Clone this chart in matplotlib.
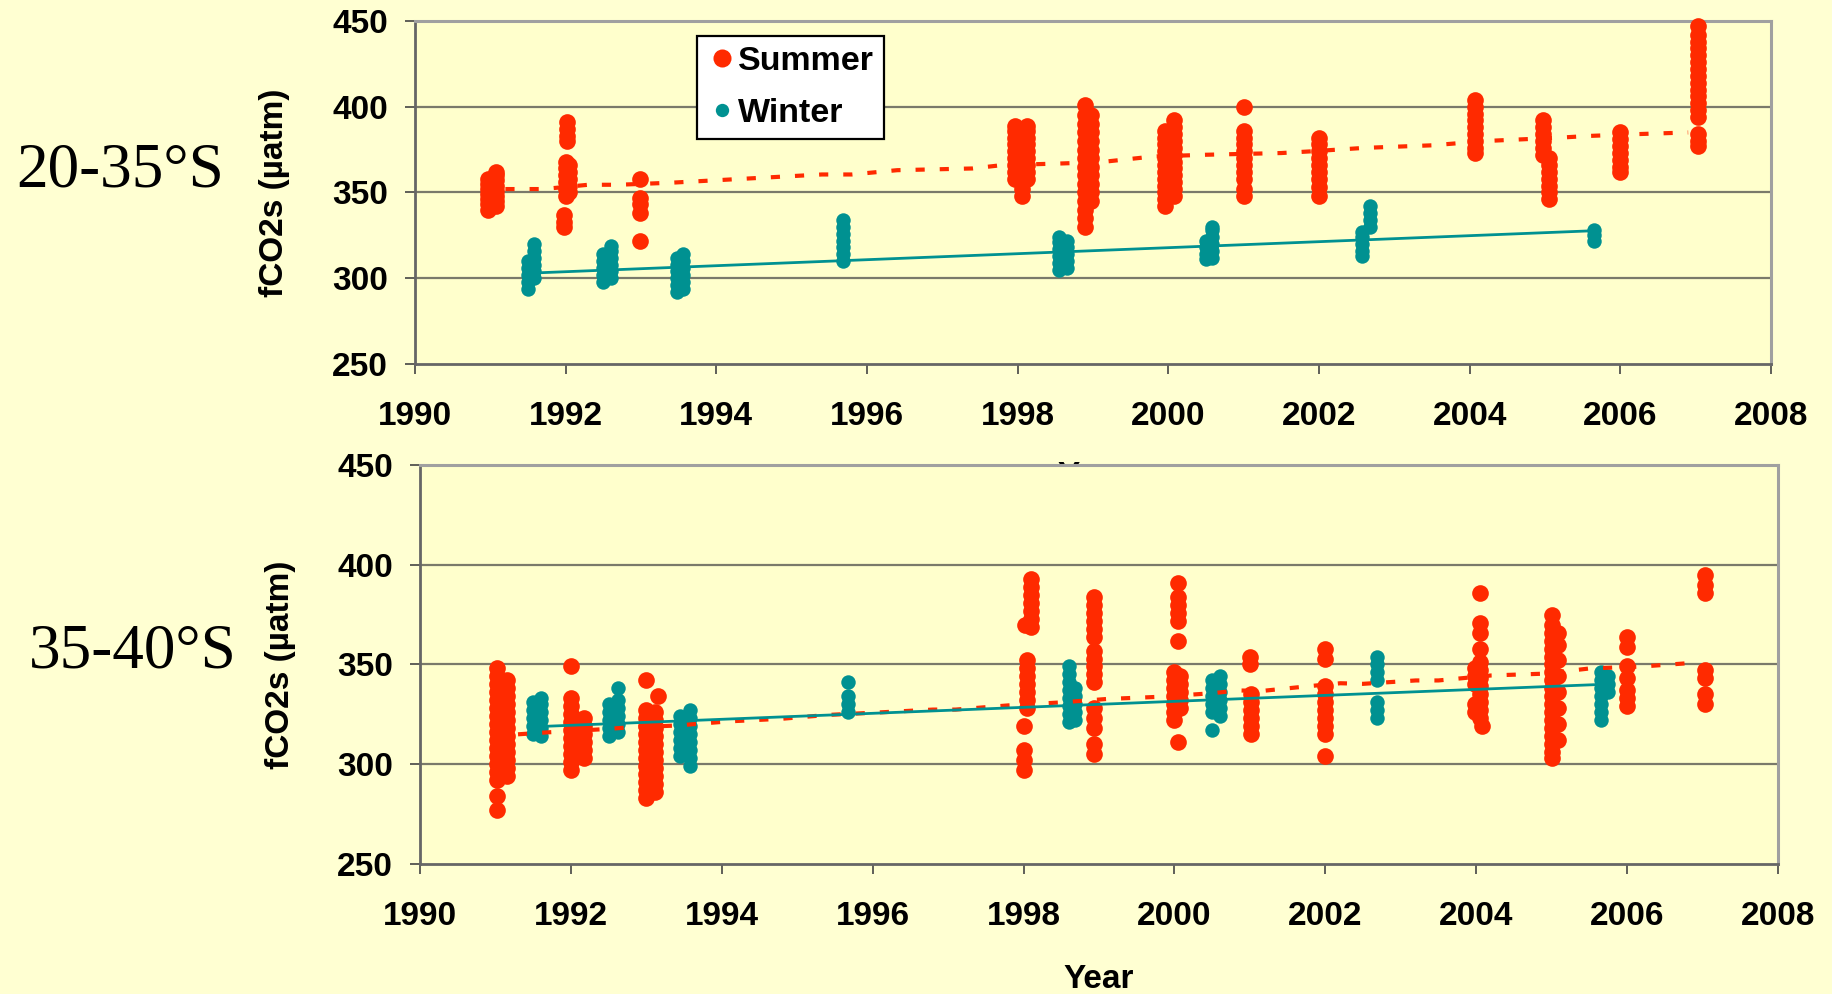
import matplotlib.pyplot as plt
from matplotlib.lines import Line2D

# ---------------- colours / fonts ----------------
RED = "#ff2a00"
TEAL = "#009191"
BG = "#ffffd2"
PLOT_BG = "#ffffcc"
SANS = "Liberation Sans"
SERIF = "Liberation Serif"

# ---------------- 20-35°S ----------------
# summer cruises
sum1_x = ([1990.97] * 7 + [1991.07] * 8
          + [1992.02] * 4 + [1992.0] * 6 + [1992.05] * 5 + [1991.98] * 3
          + [1992.99] * 5
          + [1997.96] * 9 + [1998.13] * 9 + [1998.06] * 2
          + [1998.9] * 15 + [1998.97] * 11
          + [1999.95] * 12 + [2000.07] * 12
          + [2001.0] * 11
          + [2002.0] * 9
          + [2004.07] * 9
          + [2004.97] * 6 + [2005.05] * 7
          + [2006.0] * 7
          + [2007.03] * 17)
sum1_y = ([340, 343, 346, 349, 352, 355, 358]
          + [342, 345, 348, 351, 354, 357, 360, 362]
          + [391, 387, 383, 380]
          + [368, 364, 360, 356, 352, 348]
          + [366, 362, 358, 354, 350]
          + [337, 333, 330]
          + [358, 347, 343, 338, 322]
          + [358, 362, 366, 370, 374, 378, 382, 386, 389]
          + [358, 362, 366, 370, 374, 378, 382, 386, 389]
          + [348, 352]
          + [330, 335, 340, 345, 350, 355, 360, 365, 370, 375, 380, 385, 390, 395, 401]
          + [345, 350, 355, 360, 365, 370, 375, 380, 385, 390, 395]
          + [342, 346, 350, 354, 358, 362, 366, 370, 374, 378, 382, 386]
          + [348, 352, 356, 360, 364, 368, 372, 376, 380, 384, 388, 392]
          + [400, 386, 382, 378, 374, 370, 366, 362, 358, 352, 348]
          + [382, 378, 374, 370, 366, 362, 358, 353, 348]
          + [404, 400, 396, 392, 388, 384, 380, 376, 373]
          + [392, 388, 384, 380, 376, 372]
          + [370, 366, 362, 358, 354, 350, 346]
          + [385, 381, 377, 373, 369, 365, 362]
          + [447, 442, 438, 434, 430, 426, 422, 418, 414, 410, 406, 402, 398, 394, 384, 380, 377])

# winter cruises
win1_x = ([1991.5] * 5 + [1991.58] * 6
          + [1992.5] * 5 + [1992.6] * 6
          + [1993.48] * 6 + [1993.56] * 6
          + [1995.68] * 7
          + [1998.55] * 6 + [1998.65] * 5
          + [2000.5] * 4 + [2000.58] * 6
          + [2002.57] * 5 + [2002.68] * 4
          + [2005.65] * 3)
win1_y = ([294, 298, 302, 306, 310] + [300, 304, 308, 312, 316, 320]
          + [298, 302, 306, 310, 314] + [300, 304, 308, 312, 316, 319]
          + [292, 296, 300, 304, 308, 312] + [294, 298, 302, 306, 310, 314]
          + [310, 314, 318, 322, 326, 330, 334]
          + [305, 309, 313, 317, 321, 324] + [306, 310, 314, 318, 322]
          + [311, 314, 318, 322] + [312, 316, 320, 324, 328, 330]
          + [313, 316, 320, 324, 327] + [330, 334, 338, 342]
          + [322, 325, 328])

# summer trend (dotted) and winter trend (solid)
sum1_trend_x = [1991.2, 1991.7, 1992.3, 1992.7, 1993.4, 1995.4, 1995.8, 1996.4, 1997.4, 1997.8,
                1998.5, 1999.1, 1999.8, 2000.5, 2001.5, 2001.9, 2002.6, 2003.5, 2004.2, 2005.2,
                2005.6, 2006.2, 2006.9]
sum1_trend_y = [352, 352, 354.5, 354.5, 355.7, 360.5, 360.5, 363, 364, 366,
                366.8, 367.7, 371, 372, 373, 374, 376, 377.5, 380, 382,
                383, 384, 385]
win1_trend_x = [1991.65, 2005.7]
win1_trend_y = [303.2, 327.8]

# ---------------- 35-40°S ----------------
sum2_x = ([1991.02] * 17 + [1991.15] * 13
          + [1992.0] * 11 + [1992.18] * 6
          + [1993.0] * 13 + [1993.15] + [1993.12] * 11
          + [1998.1] * 7 + [1998.02] + [1998.05] * 7 + [1998.0] * 4
          + [1998.93] * 16
          + [2000.05] * 6 + [2000.0] * 7 + [2000.08] * 5 + [2000.05]
          + [2001.0] * 2 + [2001.02] * 6
          + [2002.0] * 10
          + [2004.05] * 12 + [2003.98] * 5 + [2004.08]
          + [2005.0] * 19 + [2005.08] * 8
          + [2006.0] * 7
          + [2007.03] * 7)
sum2_y = ([348, 344, 340, 336, 332, 328, 324, 320, 316, 312, 308, 304, 300, 296, 292, 284, 277]
          + [342, 338, 334, 330, 326, 322, 318, 314, 310, 306, 302, 298, 294]
          + [349, 333, 329, 325, 321, 317, 313, 309, 305, 301, 297]
          + [323, 319, 315, 311, 307, 303]
          + [342, 327, 323, 319, 315, 311, 307, 303, 299, 295, 291, 287, 283]
          + [334]
          + [326, 322, 318, 314, 310, 306, 302, 298, 294, 290, 286]
          + [393, 389, 385, 381, 377, 373, 369]
          + [370]
          + [352, 348, 344, 340, 336, 332, 328]
          + [319, 307, 302, 297]
          + [384, 380, 376, 372, 368, 364, 357, 353, 349, 345, 341, 328, 323, 318, 310, 305]
          + [391, 384, 380, 376, 372, 362]
          + [346, 342, 338, 334, 330, 326, 322]
          + [344, 340, 336, 332, 328]
          + [311]
          + [354, 350]
          + [335, 331, 327, 323, 319, 315]
          + [358, 353, 339, 335, 331, 327, 323, 319, 315, 304]
          + [386, 371, 366, 358, 351, 347, 343, 339, 335, 331, 327, 323]
          + [348, 344, 340, 330, 326]
          + [319]
          + [375, 370, 366, 362, 358, 354, 350, 346, 342, 338, 334, 330, 326, 322, 318, 314, 310, 306, 303]
          + [366, 360, 352, 344, 336, 328, 320, 312]
          + [364, 359, 349, 343, 337, 333, 329]
          + [395, 390, 386, 347, 343, 335, 330])

win2_x = ([1991.5] * 5 + [1991.6] * 6
          + [1992.5] * 5 + [1992.62] * 6
          + [1993.45] * 6 + [1993.58] * 8
          + [1995.68] * 4
          + [1998.6] * 8 + [1998.68] * 5
          + [2000.5] * 6 + [2000.6] * 6
          + [2002.68] * 7
          + [2005.65] * 7 + [2005.75] * 3)
win2_y = ([315, 319, 323, 327, 331] + [314, 318, 322, 326, 330, 333]
          + [314, 318, 322, 326, 330] + [316, 320, 324, 328, 332, 338]
          + [304, 308, 312, 316, 320, 324] + [299, 303, 307, 311, 315, 319, 323, 327]
          + [341, 334, 330, 326]
          + [349, 345, 341, 337, 333, 329, 325, 321] + [338, 334, 330, 326, 322]
          + [342, 338, 334, 330, 326, 317] + [344, 340, 336, 332, 328, 324]
          + [354, 350, 346, 342, 331, 327, 323]
          + [346, 342, 338, 334, 330, 326, 322] + [344, 340, 336])

sum2_trend_x = [1991.3, 1991.7, 1992.4, 1992.75, 1993.4, 1994.1, 1994.8, 1995.4, 1996.1, 1996.8,
                1997.1, 1997.8, 1998.5, 1999.1, 1999.8, 2000.5, 2000.85, 2001.15, 2001.8, 2002.2,
                2002.5, 2003.2, 2003.5, 2004.2, 2004.9, 2005.5, 2006.2, 2006.9]
sum2_trend_y = [315, 316, 317.5, 318.4, 319.4, 321.5, 322.8, 324.7, 326, 327.4,
                327.4, 329.5, 331, 332.7, 333.8, 335.6, 337, 336.7, 339.2, 340.6,
                340.3, 342, 342, 344.5, 345.4, 348, 349, 350.9]
win2_trend_x = [1991.65, 2005.65]
win2_trend_y = [319, 340]

x_ticks = list(range(1990, 2009, 2))
y_ticks = [250, 300, 350, 400, 450]
region_labels = ["20-35°S", "35-40°S"]

# ---------------- figure ----------------
fig = plt.figure(figsize=(18.33, 9.94), dpi=100, facecolor=BG)
ax1 = fig.add_axes([0.2264, 0.6338, 0.7398, 0.3451])
ax2 = fig.add_axes([0.2291, 0.1308, 0.7409, 0.4014])


def style_axes(ax):
    ax.set_facecolor(PLOT_BG)
    ax.set_xlim(1990, 2008)
    ax.set_ylim(250, 450)
    ax.set_xticks(x_ticks)
    ax.set_yticks(y_ticks)
    for side in ("top", "right"):
        ax.spines[side].set_color("#a0a0a0")
        ax.spines[side].set_linewidth(2.2)
    for side in ("left", "bottom"):
        ax.spines[side].set_color("#666666")
        ax.spines[side].set_linewidth(2.0)
    ax.tick_params(axis="both", direction="out", length=7.5, width=1.2, color="#444444",
                   labelsize=24)
    ax.tick_params(axis="x", pad=19)
    ax.tick_params(axis="y", pad=12)
    for lab in ax.get_xticklabels() + ax.get_yticklabels():
        lab.set_fontfamily(SANS)
        lab.set_fontweight("bold")
    for v in (300, 350, 400):
        ax.axhline(v, color="#7a7a6a", lw=1.6, zorder=1)
    ax.set_ylabel("fCO2s (µatm)", fontsize=24, fontweight="bold", fontfamily=SANS)
    ax.set_xlabel("Year", fontsize=24, fontweight="bold", fontfamily=SANS, va="baseline")


def draw_panel(ax, sx, sy, wx, wy, stx, sty, wtx, wty):
    ax.plot(sx, sy, "o", ls="none", color=RED, ms=12, mew=0, zorder=3, clip_on=False)
    ax.plot(wx, wy, "o", ls="none", color=TEAL, ms=10.4, mew=0, zorder=4)
    ax.plot(stx, sty, color=RED, lw=3.0, dashes=(2.2, 3.6), dash_capstyle="butt", zorder=5)
    ax.plot(wtx, wty, color=TEAL, lw=2.0, zorder=6)


style_axes(ax1)
style_axes(ax2)
draw_panel(ax1, sum1_x, sum1_y, win1_x, win1_y, sum1_trend_x, sum1_trend_y,
           win1_trend_x, win1_trend_y)
draw_panel(ax2, sum2_x, sum2_y, win2_x, win2_y, sum2_trend_x, sum2_trend_y,
           win2_trend_x, win2_trend_y)

ax1.yaxis.set_label_coords(-0.092, 0.5)
ax2.yaxis.set_label_coords(-0.091, 0.5)
# top panel's "Year" sits underneath the lower panel
ax1.xaxis.set_label_coords(0.5, -0.353)
ax2.xaxis.set_label_coords(0.5, -0.311)

handles = [Line2D([], [], ls="none", marker="o", color=RED, ms=13, mew=0),
           Line2D([], [], ls="none", marker="o", color=TEAL, ms=9.6, mew=0)]
leg = ax1.legend(handles, ["Summer", "Winter"], loc="upper left",
                 bbox_to_anchor=(0.208, 0.956), frameon=True, fancybox=False,
                 edgecolor="black", facecolor="white", framealpha=1,
                 prop={"family": SANS, "weight": "bold", "size": 24.5},
                 borderpad=0.3, labelspacing=0.6, handlelength=0.85, handletextpad=0.05,
                 borderaxespad=0)
leg.get_frame().set_linewidth(1.6)
leg.set_zorder(10)

fig.text(0.0087, 0.8119, region_labels[0], fontsize=45.5, fontfamily=SERIF, va="baseline")
fig.text(0.0158, 0.328, region_labels[1], fontsize=45.5, fontfamily=SERIF, va="baseline")

fig.savefig("out.png", dpi=100, facecolor=BG)
